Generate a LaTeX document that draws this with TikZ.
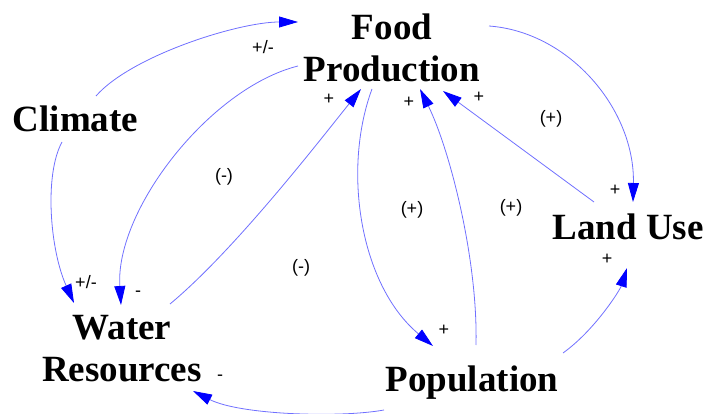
\documentclass[tikz,border=0pt]{standalone}
\usepackage{fontspec}
\setmainfont{Liberation Serif}
\newfontfamily\lblfont{Liberation Sans}
\usetikzlibrary{arrows.meta}
\definecolor{linkblue}{RGB}{112,112,255}
\definecolor{tipblue}{RGB}{0,0,255}
\tikzset{
  var/.style={font=\fontsize{37}{42}\selectfont\bfseries, inner sep=0pt, align=center},
  lbl/.style={font=\lblfont\fontsize{18}{20}\selectfont, inner sep=0pt},
  link/.style={draw=linkblue, line width=0.8pt, -{Triangle[length=19pt,width=11pt,color=tipblue]}}
}
\begin{document}
\begin{tikzpicture}[x=1pt,y=-1pt]
\useasboundingbox (0,0) rectangle (707,414);
% variables
\node[var] (fp) at (392,48.3) {Food\\Production};
\node[var, anchor=base] (clim) at (75.5,131.7) {Climate};
\node[var] (water) at (122,348.7) {Water\\Resources};
\node[var, anchor=base] (land) at (628,239.3) {Land Use};
\node[var, anchor=base] (pop) at (472,391.7) {Population};
% connector end points
\coordinate (climA) at (96,96);
\coordinate (climB) at (62,142);
\coordinate (fpIn1) at (298,22);
\coordinate (fpOut1) at (298,66);
\coordinate (fpIn2) at (361,89);
\coordinate (fpOut2) at (372,89);
\coordinate (fpIn3) at (420,89);
\coordinate (fpIn4) at (443,91);
\coordinate (fpOut3) at (489,26);
\coordinate (wIn1) at (74,303);
\coordinate (wIn2) at (121,305);
\coordinate (wOut) at (170,304);
\coordinate (wIn3) at (193,391);
\coordinate (pIn) at (433,346);
\coordinate (pOut1) at (476,345);
\coordinate (pOut2) at (563,353);
\coordinate (pOut3) at (384,410);
\coordinate (lIn1) at (633,202);
\coordinate (lIn2) at (627,268);
\coordinate (lOut) at (594,202);
% connectors
\draw[link] (climA) .. controls (131,56) and (238,22) .. (fpIn1);
\draw[link] (climB) .. controls (44,175) and (50,250) .. (wIn1);
\draw[link] (fpOut1) .. controls (210,88) and (115,210) .. (wIn2);
\draw[link] (wOut) .. controls (235,250) and (320,140) .. (fpIn2);
\draw[link] (fpOut2) .. controls (342,170) and (360,285) .. (pIn);
\draw[link] (pOut1) .. controls (478,260) and (450,150) .. (fpIn3);
\draw[link] (lOut) -- (fpIn4);
\draw[link] (fpOut3) .. controls (570,32) and (635,110) .. (lIn1);
\draw[link] (pOut2) .. controls (595,330) and (620,290) .. (lIn2);
\draw[link] (pOut3) .. controls (340,418) and (240,415) .. (wIn3);
% labels
\node[lbl] (l1) at (263,47) {+/-};
\node[lbl] (l2) at (329,99) {+};
\node[lbl] (l3) at (224,177) {(-)};
\node[lbl] (l4) at (86,282) {+/-};
\node[lbl] (l5) at (138,294) {-};
\node[lbl] (l6) at (301,268) {(-)};
\node[lbl] (l7) at (220,378) {-};
\node[lbl] (l8) at (409,102) {+};
\node[lbl] (l9) at (479,97) {+};
\node[lbl] (l10) at (551,119) {(+)};
\node[lbl] (l11) at (412,210) {(+)};
\node[lbl] (l12) at (511,208) {(+)};
\node[lbl] (l13) at (615,190) {+};
\node[lbl] (l14) at (444,330) {+};
\node[lbl] (l15) at (607,259) {+};
\end{tikzpicture}
\end{document}
